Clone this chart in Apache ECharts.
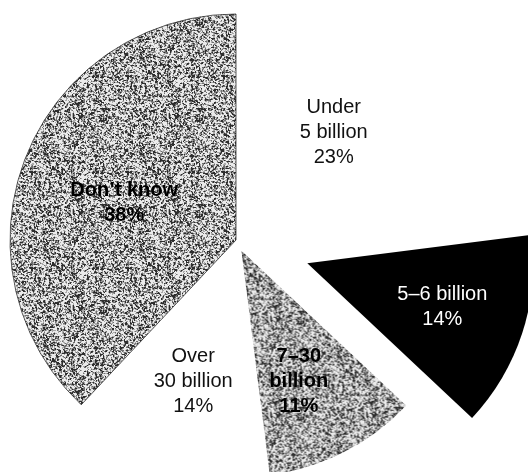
<!DOCTYPE html>
<html>
<head>
<meta charset="utf-8">
<script src="https://cdn.jsdelivr.net/npm/echarts@6/dist/echarts.min.js"></script>
<style>
  html, body { margin: 0; padding: 0; background: #fff; }
  #chart { width: 528px; height: 472px; }
</style>
</head>
<body>
<div id="chart"></div>
<script>
// ---- data ----
const categories = ['Under\n5 billion', '5–6 billion', '7–30\nbillion', 'Over\n30 billion', 'Don’t know'];
const shares = [23, 14, 11, 14, 38];

// ---- styling (not data) ----
const explodeOffsets = [0, 75, 12, 0, 0];
const fills = ['white', 'black', 'stipple', 'white', 'stipple'];
const borders = [0, 0, 0, 0, 0.8];
const labelColors = ['#111', '#fff', '#000', '#111', '#000'];
const labelWeights = ['normal', 'normal', 'bold', 'normal', 'bold'];
const labelOffsets = [[21, -21], [22, -19], [-25, 19], [-7, 31], [-4, 6]];

function hash(x, y) {
  let h = Math.sin(x * 12.9898 + y * 78.233) * 43758.5453;
  return h - Math.floor(h);
}
function stippleCanvas() {
  const n = 96;
  const c = document.createElement('canvas');
  c.width = n; c.height = n;
  const ctx = c.getContext('2d');
  const img = ctx.createImageData(n, n);
  for (let y = 0; y < n; y++) {
    for (let x = 0; x < n; x++) {
      const xm = (x + 1) % n, ym = (y + 1) % n;
      const h = 0.5 * hash(x, y) + 0.2 * hash(xm, y) + 0.2 * hash(x, ym) + 0.1 * hash(xm, ym);
      let v;
      if (h < 0.34) v = 45;
      else if (h < 0.45) v = 110;
      else if (h < 0.57) v = 170;
      else v = 235;
      const k = (y * n + x) * 4;
      img.data[k] = v; img.data[k + 1] = v; img.data[k + 2] = v; img.data[k + 3] = 255;
    }
  }
  ctx.putImageData(img, 0, 0);
  return c;
}
const stipple = { image: stippleCanvas(), repeat: 'repeat' };
function fillColor(f) {
  if (f === 'stipple') return stipple;
  return f === 'black' ? '#000' : '#fff';
}

const groups = [...new Set(explodeOffsets)];
const series = groups.map(off => ({
  type: 'pie',
  center: [236, 240],
  radius: 226,
  startAngle: 90,
  clockwise: true,
  silent: true,
  animation: false,
  avoidLabelOverlap: false,
  selectedMode: 'multiple',
  selectedOffset: off,
  emphasis: { disabled: true },
  labelLine: { show: false },
  data: categories.map((name, i) => {
    const visible = explodeOffsets[i] === off;
    const itemStyle = visible
      ? { color: fillColor(fills[i]), borderWidth: borders[i], borderColor: '#333' }
      : { color: 'rgba(0,0,0,0)', borderWidth: 0 };
    const label = visible ? {
      show: true,
      position: 'inside',
      formatter: p => p.name + '\n' + p.value + '%',
      color: labelColors[i],
      fontWeight: labelWeights[i],
      fontSize: 20,
      lineHeight: 25,
      fontFamily: '"Liberation Sans", Arial, Helvetica, sans-serif',
      offset: labelOffsets[i]
    } : { show: false };
    return {
      name: name,
      value: shares[i],
      selected: visible && off > 0,
      itemStyle: itemStyle,
      label: label,
      select: { itemStyle: itemStyle, label: label }
    };
  })
}));

const chart = echarts.init(document.getElementById('chart'), null, { renderer: 'canvas' });
chart.setOption({
  backgroundColor: '#fff',
  animation: false,
  series: series
});
</script>
</body>
</html>
